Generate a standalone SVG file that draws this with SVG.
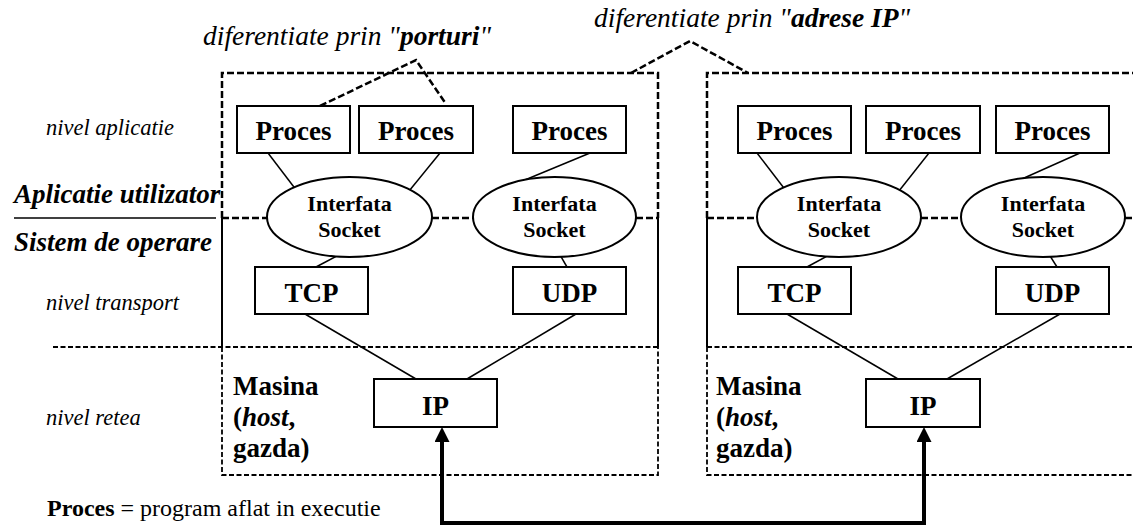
<svg xmlns="http://www.w3.org/2000/svg" width="1133" height="529" viewBox="0 0 1133 529" font-family="'Liberation Serif', 'DejaVu Serif', serif">
  <style>
    text { font-family: "Liberation Serif", "DejaVu Serif", serif; fill: #000; }
    .box { fill: #fff; stroke: #000; stroke-width: 2; }
    .ell { fill: #fff; stroke: #000; stroke-width: 2; }
    .lbl { font-weight: bold; font-size: 27px; text-anchor: middle; }
    .sock { font-weight: bold; font-size: 22px; text-anchor: middle; }
    .lvl { font-style: italic; font-size: 22.5px; }
    .title { font-style: italic; font-size: 27.5px; }
    .bi { font-weight: bold; font-style: italic; }
    .host { font-weight: bold; font-size: 27px; }
    .link { fill: none; stroke: #000; stroke-width: 1.5; }
    .dashA { fill: none; stroke: #000; stroke-width: 2.5; stroke-dasharray: 7 3; }
    .dashB { fill: none; stroke: #000; stroke-width: 1.8; stroke-dasharray: 5 2.5; }
    .solid { fill: none; stroke: #000; stroke-width: 2; }
    .wire { fill: none; stroke: #000; stroke-width: 4; marker-start: url(#tip); marker-end: url(#tip); }
  </style>
  <defs>
    <marker id="tip" viewBox="0 0 15 15" refX="2" refY="7.5" markerWidth="15" markerHeight="15" markerUnits="userSpaceOnUse" orient="auto-start-reverse">
      <path d="M0,0 L15,7.5 L0,15 z" fill="#000"/>
    </marker>
  </defs>

  <!-- side captions -->
  <g id="captions">
    <text class="title" x="203" y="45">diferentiate prin "<tspan class="bi">porturi</tspan>"</text>
    <text class="title" x="594" y="27">diferentiate prin "<tspan class="bi">adrese IP</tspan>"</text>
    <text class="lvl" x="46" y="135">nivel aplicatie</text>
    <text class="bi" x="14" y="203" font-size="27">Aplicatie utilizator</text>
    <text class="bi" x="14" y="251" font-size="27">Sistem de operare</text>
    <text class="lvl" x="46" y="310">nivel transport</text>
    <text class="lvl" x="46" y="425">nivel retea</text>
    <text x="47" y="516" font-size="24"><tspan font-weight="bold">Proces</tspan> = program aflat in executie</text>
  </g>

  <!-- layer boundaries and machine outlines -->
  <g id="frames">
    <line class="solid" x1="14" y1="218" x2="216" y2="218" style="stroke-width:1.5"/>
    <line class="dashB" x1="53" y1="347" x2="658" y2="347"/>
    <line class="dashB" x1="707" y1="347" x2="1133" y2="347"/>
    <!-- host 1 -->
    <path class="dashA" d="M222,218 V73 H658 V218"/>
    <path class="solid" d="M222,218 V347 M658,218 V347"/>
    <path class="dashB" d="M222,347 V475 H658 V347"/>
    <path class="dashA" d="M222,218 H267 M432,218 H473 M636,218 H658"/>
    <!-- host 2 -->
    <path class="dashA" d="M707,218 V73 H1133"/>
    <path class="solid" d="M707,218 V347"/>
    <path class="dashB" d="M707,347 V475 H1133"/>
    <path class="dashA" d="M707,218 H757 M921,218 H961 M1125,218 H1133"/>
    <!-- callouts -->
    <polyline class="dashA" points="320,106 416,60 446,104"/>
    <polyline class="dashA" points="631,73 690,41 748,73"/>
  </g>

  <!-- connectors -->
  <g id="connectors">
    <line class="link" x1="268" y1="153" x2="300" y2="195"/>
    <line class="link" x1="440" y1="153" x2="405" y2="196"/>
    <line class="link" x1="590" y1="153" x2="520" y2="182"/>
    <line class="link" x1="352" y1="248" x2="316" y2="267"/>
    <line class="link" x1="556" y1="248" x2="567" y2="267"/>
    <line class="link" x1="305" y1="314" x2="416" y2="379"/>
    <line class="link" x1="576" y1="314" x2="467" y2="379"/>

    <line class="link" x1="757" y1="153" x2="790" y2="196"/>
    <line class="link" x1="929" y1="153" x2="895" y2="196"/>
    <line class="link" x1="1080" y1="153" x2="1015" y2="182"/>
    <line class="link" x1="842" y1="248" x2="807" y2="267"/>
    <line class="link" x1="1045" y1="248" x2="1057" y2="267"/>
    <line class="link" x1="787" y1="314" x2="898" y2="379"/>
    <line class="link" x1="1060" y1="314" x2="947" y2="379"/>

    <path class="wire" d="M442,440 V523 H924 V440"/>
  </g>

  <!-- host 1 nodes -->
  <g id="h1-proc1"><rect class="box" x="237" y="106" width="113" height="47"/><text class="lbl" x="293.5" y="140">Proces</text></g>
  <g id="h1-proc2"><rect class="box" x="359" y="106" width="114" height="47"/><text class="lbl" x="416" y="140">Proces</text></g>
  <g id="h1-proc3"><rect class="box" x="513" y="106" width="113" height="47"/><text class="lbl" x="569.5" y="140">Proces</text></g>
  <g id="h1-sock1"><ellipse class="ell" cx="349.5" cy="217" rx="82.5" ry="40"/><text class="sock" x="349.5" y="211">Interfata</text><text class="sock" x="349.5" y="237">Socket</text></g>
  <g id="h1-sock2"><ellipse class="ell" cx="554.5" cy="217" rx="81.5" ry="40"/><text class="sock" x="554.5" y="211">Interfata</text><text class="sock" x="554.5" y="237">Socket</text></g>
  <g id="h1-tcp"><rect class="box" x="255" y="267" width="113" height="47"/><text class="lbl" x="311.5" y="302">TCP</text></g>
  <g id="h1-udp"><rect class="box" x="513" y="267" width="113" height="47"/><text class="lbl" x="569.5" y="302">UDP</text></g>
  <g id="h1-ip"><rect class="box" x="374" y="379" width="123" height="48"/><text class="lbl" x="435.5" y="415">IP</text></g>
  <g id="h1-label"><text class="host" x="233" y="395">Masina</text><text class="host" x="233" y="426">(<tspan font-style="italic">host</tspan>,</text><text class="host" x="233" y="457">gazda)</text></g>

  <!-- host 2 nodes -->
  <g id="h2-proc1"><rect class="box" x="738" y="106" width="113" height="47"/><text class="lbl" x="794.5" y="140">Proces</text></g>
  <g id="h2-proc2"><rect class="box" x="866" y="106" width="114" height="47"/><text class="lbl" x="923" y="140">Proces</text></g>
  <g id="h2-proc3"><rect class="box" x="996" y="106" width="113" height="47"/><text class="lbl" x="1052.5" y="140">Proces</text></g>
  <g id="h2-sock1"><ellipse class="ell" cx="839" cy="217" rx="82" ry="40"/><text class="sock" x="839" y="211">Interfata</text><text class="sock" x="839" y="237">Socket</text></g>
  <g id="h2-sock2"><ellipse class="ell" cx="1043" cy="217" rx="82" ry="40"/><text class="sock" x="1043" y="211">Interfata</text><text class="sock" x="1043" y="237">Socket</text></g>
  <g id="h2-tcp"><rect class="box" x="738" y="267" width="113" height="47"/><text class="lbl" x="794.5" y="302">TCP</text></g>
  <g id="h2-udp"><rect class="box" x="996" y="267" width="113" height="47"/><text class="lbl" x="1052.5" y="302">UDP</text></g>
  <g id="h2-ip"><rect class="box" x="866" y="379" width="114" height="48"/><text class="lbl" x="923" y="415">IP</text></g>
  <g id="h2-label"><text class="host" x="716" y="395">Masina</text><text class="host" x="716" y="426">(<tspan font-style="italic">host</tspan>,</text><text class="host" x="716" y="457">gazda)</text></g>
</svg>
